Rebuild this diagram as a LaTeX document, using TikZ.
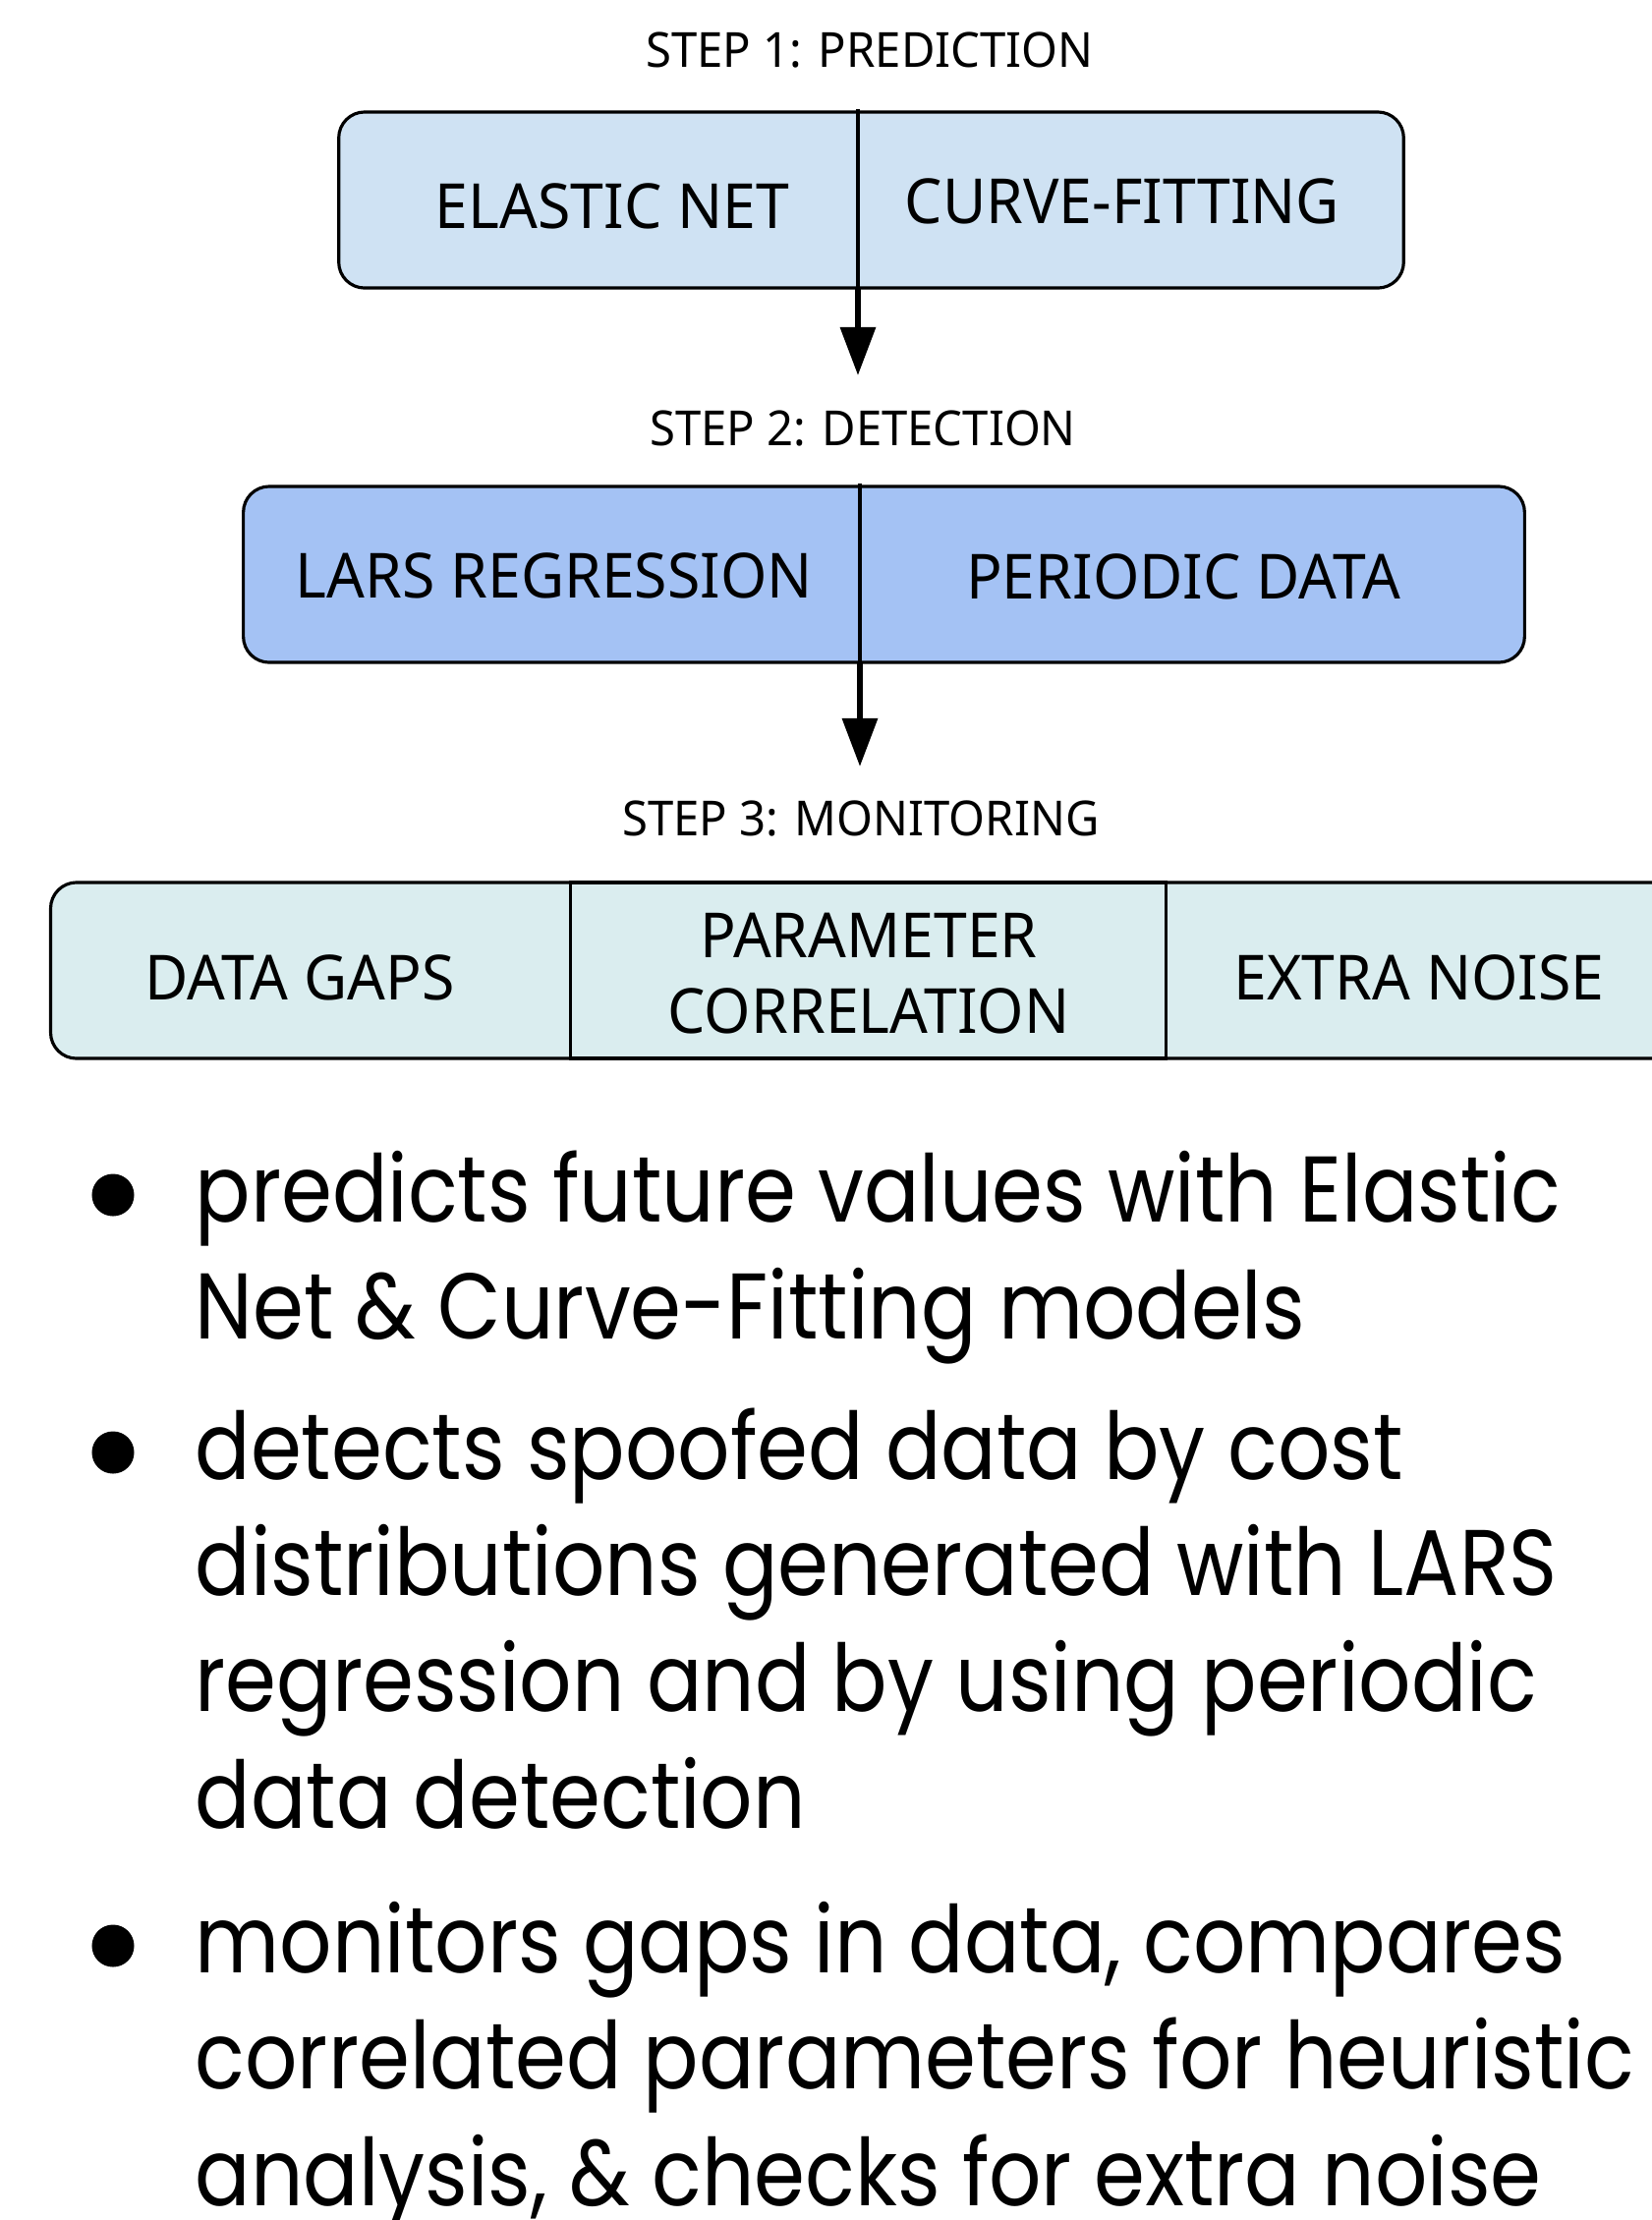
\documentclass[tikz,border=0pt]{standalone}
\usepackage{fontspec}
\setmainfont{Poppins}[FakeStretch=0.88]
\newfontfamily\labelfont{Noto Sans}[FakeStretch=0.96]
\usetikzlibrary{arrows.meta}

\definecolor{predblue}{HTML}{CFE2F3}
\definecolor{detblue}{HTML}{A4C2F4}
\definecolor{moncyan}{HTML}{DAEDEF}

\begin{document}
\begin{tikzpicture}[x=0.01cm, y=-0.01cm,
    stage/.style={draw=black, line width=0.9pt, rounded corners=7.5pt, minimum height=1.79cm, inner sep=0pt},
    steptitle/.style={font=\labelfont\fontsize{14}{17}\selectfont, inner sep=0pt, anchor=base},
    cell/.style={font=\labelfont\fontsize{18}{21.9}\selectfont, inner sep=0pt, anchor=base, align=center},
    dot/.style={circle, fill=black, minimum size=0.43cm, inner sep=0pt},
    item/.style={font=\fontsize{27}{33.6}\selectfont, inner sep=0pt, anchor=base west, align=left},
    arr/.style={-{Triangle[length=14pt, width=10pt]}, line width=1.8pt}]
	\clip (0,0) rectangle (1681,2259);

	% step 1
	\node[steptitle] (t1) at (885,68) {STEP 1: PREDICTION};
	\node[stage, fill=predblue, minimum width=10.83cm] (pred) at (886.5,203.5) {};
	\node[cell] (elastic) at (623,232) {ELASTIC NET};
	\node[cell] (curve) at (1142,227) {CURVE-FITTING};
	\coordinate (d1a) at (873,111);
	\coordinate (d1b) at (873,293);
	\coordinate (a1) at (873,382);
	\draw[black, line width=0.9pt] (d1a) -- (d1b);
	\draw[arr] (d1b) -- (a1);

	% step 2
	\node[steptitle] (t2) at (878,453) {STEP 2: DETECTION};
	\node[stage, fill=detblue, minimum width=13.03cm] (det) at (899.5,584.5) {};
	\node[cell] (lars) at (564,608) {LARS REGRESSION};
	\node[cell] (periodic) at (1204,609) {PERIODIC DATA};
	\coordinate (d2a) at (875,492);
	\coordinate (d2b) at (875,674);
	\coordinate (a2) at (875,780);
	\draw[black, line width=0.9pt] (d2a) -- (d2b);
	\draw[arr] (d2b) -- (a2);

	% step 3
	\node[steptitle] (t3) at (876,850) {STEP 3: MONITORING};
	\node[stage, fill=moncyan, minimum width=16.68cm] (mon) at (886,987.5) {};
	\node[draw=black, line width=0.9pt, fill=moncyan, minimum width=6.05cm, minimum height=1.79cm, inner sep=0pt] (corr) at (883.5,987.5) {};
	\node[cell] (gaps) at (305,1017) {DATA GAPS};
	\node[cell, anchor=center] (param) at (884,990.5) {PARAMETER\\CORRELATION};
	\node[cell] (noise) at (1444,1017) {EXTRA NOISE};

	% bullets (anchor is the baseline of the last line)
	\node[dot] (b1) at (115,1216) {};
	\node[item] (p1) at (198,1362) {predicts future values with Elastic\\Net \& Curve-Fitting models};
	\node[dot] (b2) at (115,1478) {};
	\node[item] (p2) at (198,1860) {detects spoofed data by cost\\distributions generated with LARS\\regression and by using periodic\\data detection};
	\node[dot] (b3) at (115,1980) {};
	\node[item] (p3) at (198,2244) {monitors gaps in data, compares\\correlated parameters for heuristic\\analysis, \& checks for extra noise};
\end{tikzpicture}
\end{document}
